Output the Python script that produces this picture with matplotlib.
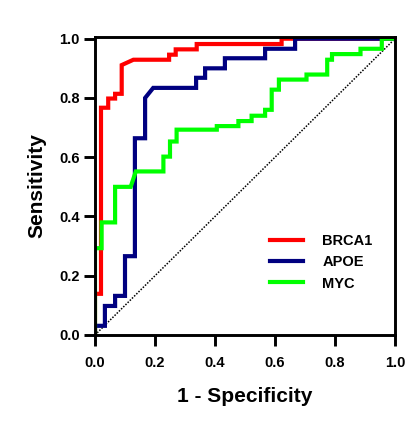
import matplotlib
matplotlib.use("Agg")
import matplotlib.pyplot as plt

# ---- data ----
brca1_fpr = [0, 0, 0.020, 0.020, 0.044, 0.044, 0.067, 0.067, 0.089, 0.089, 0.128, 0.247, 0.247,
             0.269, 0.269, 0.339, 0.339, 0.622, 0.622, 1.0]
brca1_tpr = [0, 0.139, 0.139, 0.767, 0.767, 0.798, 0.798, 0.814, 0.814, 0.911, 0.929, 0.929, 0.946,
             0.946, 0.964, 0.964, 0.982, 0.982, 1.0, 1.0]

apoe_fpr = [0, 0, 0.033, 0.033, 0.067, 0.067, 0.100, 0.100, 0.133, 0.133, 0.167, 0.167, 0.194,
            0.337, 0.337, 0.367, 0.367, 0.433, 0.433, 0.567, 0.567, 0.667, 0.667, 1.0]
apoe_tpr = [0, 0.031, 0.031, 0.098, 0.098, 0.132, 0.132, 0.266, 0.266, 0.664, 0.664, 0.800, 0.834,
            0.834, 0.868, 0.868, 0.900, 0.900, 0.934, 0.934, 0.966, 0.966, 1.0, 1.0]

myc_fpr = [0, 0, 0.022, 0.022, 0.067, 0.067, 0.119, 0.136, 0.228, 0.228, 0.250, 0.250, 0.272, 0.272,
           0.406, 0.406, 0.478, 0.478, 0.522, 0.522, 0.567, 0.567, 0.589, 0.589, 0.613, 0.613,
           0.705, 0.705, 0.774, 0.774, 0.790, 0.790, 0.885, 0.885, 0.956, 0.956, 1.0]
myc_tpr = [0, 0.293, 0.293, 0.380, 0.380, 0.500, 0.500, 0.552, 0.552, 0.602, 0.602, 0.653, 0.653, 0.693,
           0.693, 0.705, 0.705, 0.722, 0.722, 0.740, 0.740, 0.760, 0.760, 0.828, 0.828, 0.862,
           0.862, 0.879, 0.879, 0.929, 0.929, 0.948, 0.948, 0.966, 0.966, 1.0, 1.0]

labels = ["BRCA1", "APOE", "MYC"]
colors = ["#FF0000", "#000080", "#00FF00"]
ticks = [0.0, 0.2, 0.4, 0.6, 0.8, 1.0]
tick_labels = ["0.0", "0.2", "0.4", "0.6", "0.8", "1.0"]

plt.rcParams['font.family'] = ['Liberation Sans', 'DejaVu Sans']
plt.rcParams['font.weight'] = 'bold'

W, H = 420, 428
fig = plt.figure(figsize=(W / 100, H / 100), dpi=100)
ax = fig.add_axes([95 / W, 93 / H, 300 / W, 298.5 / H])

ax.plot([0, 1], [0, 1], color="black", lw=1.1, linestyle=(0, (1.0, 1.0)), zorder=1)
for fx, ty, lab, c in zip([brca1_fpr, apoe_fpr, myc_fpr], [brca1_tpr, apoe_tpr, myc_tpr], labels, colors):
    ax.plot(fx, ty, color=c, lw=3, label=lab, solid_joinstyle="miter", zorder=2)

ax.set_xlim(0, 1)
ax.set_ylim(0, 1.0074)
ax.set_xticks(ticks)
ax.set_xticklabels(tick_labels)
ax.set_yticks(ticks)
ax.set_yticklabels(tick_labels)
for s in ax.spines.values():
    s.set_linewidth(2.1)
ax.tick_params(axis="both", direction="out", length=8, width=2.1, labelsize=10.5, pad=3)
ax.tick_params(axis="x", pad=7)
for t in ax.get_xticklabels() + ax.get_yticklabels():
    t.set_fontweight("bold")

ax.set_xlabel("1 - Specificity", fontsize=15, fontweight="bold", labelpad=12)
ax.set_ylabel("Sensitivity", fontsize=15, fontweight="bold", labelpad=9)

leg = ax.legend(loc="center left", bbox_to_anchor=(0.583, 0.2436), frameon=False,
                prop={"weight": "bold", "size": 10.5}, handlelength=2.3, handletextpad=1.3,
                labelspacing=0.5, borderpad=0, borderaxespad=0)
for l in leg.get_lines():
    l.set_linewidth(3)

fig.savefig("out.png", dpi=100)
